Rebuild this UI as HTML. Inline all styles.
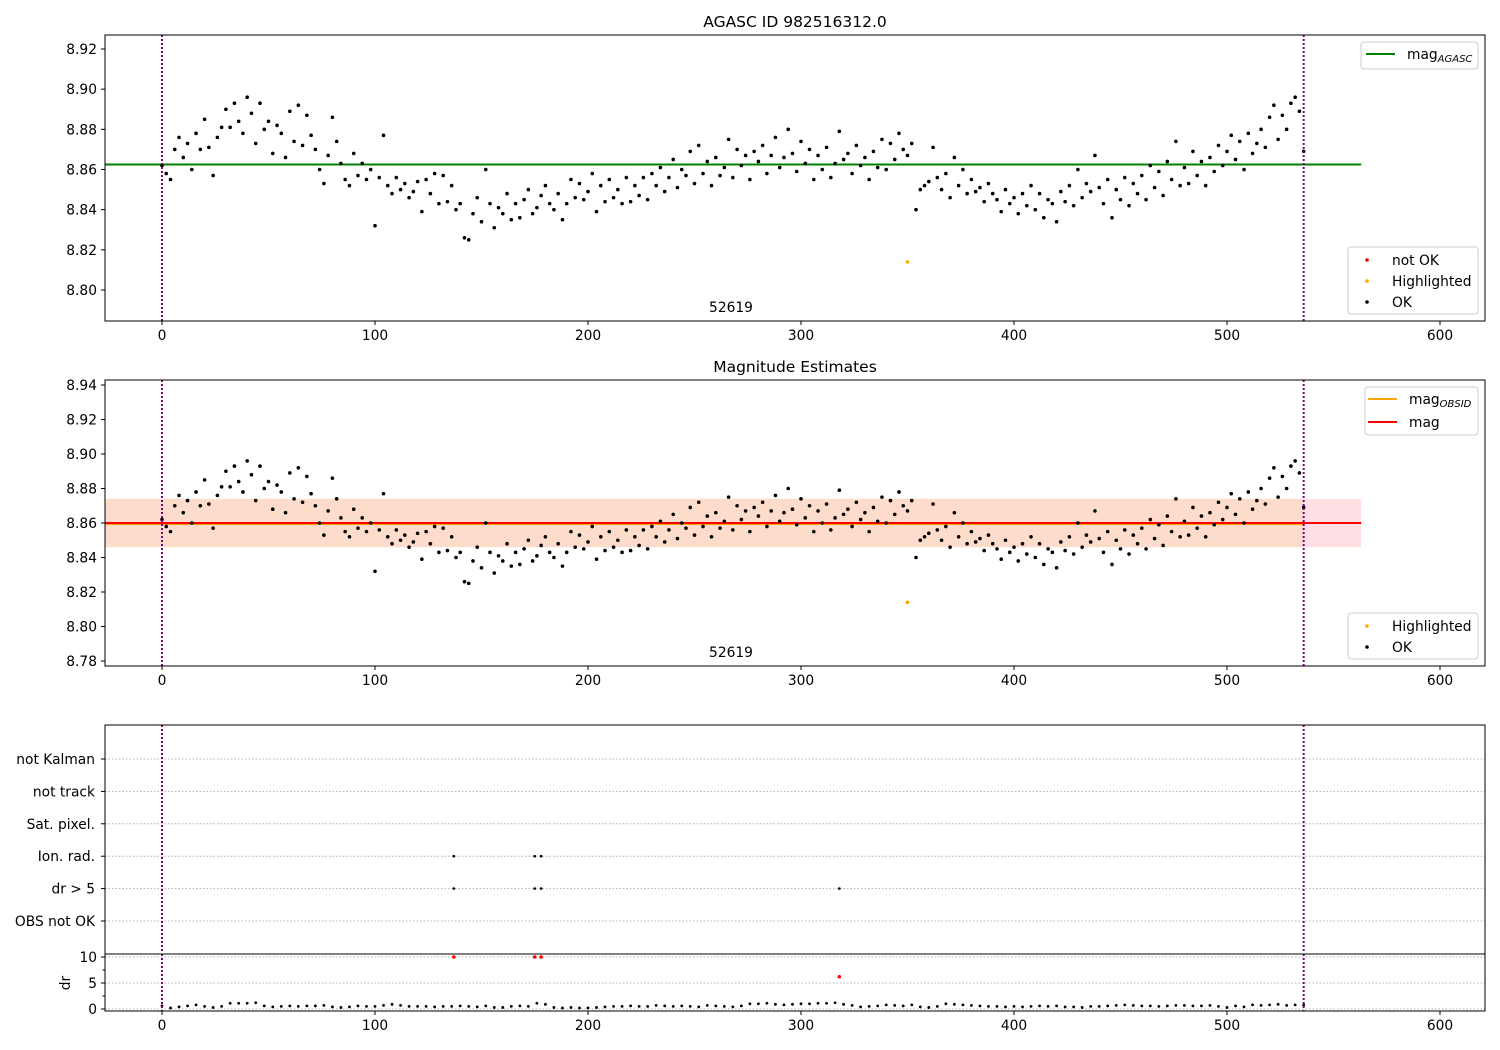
<!DOCTYPE html>
<html><head><meta charset="utf-8">
<style>
html,body{margin:0;padding:0;background:#fff;}
svg{display:block;font-family:"DejaVu Sans","Liberation Sans",sans-serif;}
</style></head>
<body>
<svg id="fig" width="1500" height="1050" xmlns="http://www.w3.org/2000/svg"></svg>
<script>
// ---- data ----
const magX0 = 0, magStep = 2;
const magValues = [
8.862,8.858,8.855,8.870,8.876,8.866,8.873,8.860,8.878,8.870,
8.885,8.871,8.857,8.876,8.881,8.890,8.881,8.893,8.884,8.878,
8.896,8.888,8.873,8.893,8.880,8.884,8.868,8.882,8.878,8.866,
8.889,8.874,8.892,8.872,8.887,8.877,8.870,8.860,8.853,8.867,
8.886,8.874,8.863,8.855,8.852,8.868,8.857,8.863,8.855,8.860,
8.832,8.856,8.877,8.852,8.848,8.856,8.850,8.853,8.846,8.849,
8.854,8.839,8.855,8.848,8.858,8.843,8.857,8.844,8.852,8.840,
8.843,8.826,8.825,8.838,8.846,8.834,8.860,8.843,8.831,8.841,
8.838,8.848,8.835,8.843,8.836,8.845,8.850,8.838,8.841,8.847,
8.852,8.843,8.840,8.848,8.835,8.843,8.855,8.846,8.853,8.845,
8.849,8.858,8.839,8.852,8.844,8.855,8.846,8.850,8.843,8.856,
8.844,8.852,8.847,8.856,8.845,8.858,8.852,8.861,8.849,8.856,
8.865,8.851,8.860,8.857,8.869,8.853,8.872,8.858,8.864,8.852,
8.866,8.857,8.861,8.875,8.856,8.870,8.862,8.867,8.855,8.869,
8.864,8.872,8.858,8.867,8.876,8.861,8.866,8.880,8.868,8.859,
8.874,8.863,8.870,8.855,8.867,8.860,8.871,8.856,8.863,8.879,
8.865,8.868,8.858,8.872,8.862,8.866,8.855,8.869,8.861,8.875,
8.860,8.873,8.865,8.878,8.870,8.867,8.873,8.840,8.850,8.852,
8.854,8.871,8.856,8.850,8.858,8.846,8.866,8.852,8.860,8.848,
8.855,8.849,8.851,8.844,8.853,8.848,8.845,8.839,8.850,8.843,
8.846,8.838,8.848,8.842,8.852,8.840,8.848,8.836,8.845,8.843,
8.834,8.849,8.844,8.852,8.842,8.860,8.846,8.853,8.849,8.867,
8.851,8.843,8.855,8.836,8.850,8.845,8.856,8.842,8.853,8.848,
8.857,8.845,8.862,8.851,8.859,8.847,8.864,8.855,8.874,8.852,
8.861,8.853,8.869,8.857,8.864,8.852,8.866,8.859,8.872,8.862,
8.869,8.877,8.865,8.874,8.860,8.878,8.868,8.873,8.880,8.871,
8.886,8.892,8.875,8.887,8.880,8.893,8.896,8.889,8.869];
const highlightX = [350];
const highlightMag = [8.814];
const magAgasc = 8.8625;
const magMean = 8.860;
const magBandLo = 8.846, magBandHi = 8.874;
const obsStart = 0, obsEnd = 536;
const lineEnd = 563;
const drX0 = 0, drStep = 4;
const drValues = [
0.6,0.2,0.4,0.6,0.8,0.5,0.3,0.5,1.1,1.1,
1.1,1.2,0.6,0.4,0.5,0.6,0.5,0.6,0.6,0.7,
0.4,0.3,0.4,0.6,0.5,0.5,0.7,0.9,0.7,0.5,
0.5,0.5,0.4,0.5,0.5,0.6,0.5,0.4,0.6,0.3,
0.3,0.5,0.6,0.5,1.1,0.9,0.3,0.2,0.3,0.2,
0.2,0.3,0.4,0.5,0.5,0.6,0.5,0.5,0.7,0.6,
0.5,0.6,0.5,0.4,0.7,0.6,0.5,0.4,0.6,1.0,
1.0,1.1,0.9,0.8,0.9,1.0,1.0,1.1,1.1,1.2,
0.9,0.7,0.4,0.5,0.6,0.8,0.7,0.6,0.8,0.4,
0.3,0.5,1.0,0.9,0.8,0.7,0.6,0.5,0.5,0.4,
0.5,0.4,0.5,0.6,0.5,0.6,0.4,0.4,0.3,0.5,
0.5,0.6,0.7,0.8,0.7,0.6,0.6,0.5,0.6,0.7,
0.7,0.6,0.6,0.7,0.5,0.3,0.6,0.4,0.8,0.7,
0.8,0.9,0.7,0.8,0.8];
const drBadX = [137,175,178,318];
const drBadValues = [10,10,10,6.2];
const flagLabels = ["OBS not OK","dr > 5","Ion. rad.","Sat. pixel.","not track","not Kalman"];
const flagX = [137,175,178,137,175,178,318];
const flagRow = [2,2,2,1,1,1,1];
const xTicks = [0,100,200,300,400,500,600];
const yTicks1 = [8.80,8.82,8.84,8.86,8.88,8.90,8.92];
const yTicks2 = [8.78,8.80,8.82,8.84,8.86,8.88,8.90,8.92,8.94];
const yTicks4 = [0,5,10];
const yMinor4 = [2.5,7.5];

// ---- drawing ----
const svg = document.getElementById('fig');
const NS = 'http://www.w3.org/2000/svg';
const FS = 13.8;
function mk(tag, attrs, parent, text){
  const e = document.createElementNS(NS, tag);
  for (const k in attrs) e.setAttribute(k, attrs[k]);
  if (text !== undefined) e.textContent = text;
  (parent||svg).appendChild(e);
  return e;
}
const L = 105, R = 1485;
const xs = v => 162 + v * 2.13;
const ys1 = v => 49 + (8.92 - v) * 2008.3;
const ys2 = v => 385 + (8.94 - v) * 1725;
const ys3 = i => 921 - i * 32.4;
const ys4 = v => 1009 - v * 5.2;
const mx = i => magX0 + i * magStep;
const dx = i => drX0 + i * drStep;

function frame(top, bottom, name){
  const r = mk('rect',{x:L,y:top,width:R-L,height:bottom-top,fill:'none',stroke:'#000','stroke-width':1});
  
  
}
function xAxis(bottom, name, labels){
  const g = mk('g',{});
  
  
  xTicks.forEach(t=>{
    mk('line',{x1:xs(t),x2:xs(t),y1:bottom,y2:bottom+4,stroke:'#000'},g);
    if (labels) mk('text',{x:xs(t),y:bottom+19,'font-size':FS,'text-anchor':'middle',fill:'#000'},g,String(t));
  });
}
function yAxis(ticks, ys, name, fmt){
  const g = mk('g',{});
  
  
  ticks.forEach(t=>{
    mk('line',{x1:L-4,x2:L,y1:ys(t),y2:ys(t),stroke:'#000'},g);
    mk('text',{x:L-8,y:ys(t)+5,'font-size':FS,'text-anchor':'end',fill:'#000'},g,fmt(t));
  });
}
function vlines(top,bottom,name){
  [obsStart,obsEnd].forEach(v=>{
    const l = mk('line',{x1:xs(v),x2:xs(v),y1:top,y2:bottom,stroke:'#800080','stroke-width':2,'stroke-dasharray':'2,2'});
    
    
  });
}
function dots(xsArr, ysArr, ys, color, name, r){
  const g = mk('g',{});
  
  
  for (let i=0;i<ysArr.length;i++){
    mk('circle',{cx:xs(xsArr(i)),cy:ys(ysArr[i]),r:r||1.8,fill:color},g);
  }
}

// Panel 1
mk('text',{x:795,y:27,'font-size':15.5,'text-anchor':'middle',fill:'#000'},svg,'AGASC ID 982516312.0');
const ag = mk('line',{x1:L,x2:xs(lineEnd),y1:ys1(magAgasc),y2:ys1(magAgasc),stroke:'#008000','stroke-width':2});


dots(mx, magValues, ys1, '#000', 'mag-points-top');
dots(i=>highlightX[i], highlightMag, ys1, 'orange', 'highlighted-point-top');
vlines(35,321,'obs-boundary-top');
mk('text',{x:731,y:312,'font-size':FS,'text-anchor':'middle',fill:'#000'},svg,'52619');
frame(35,321,'top-axes');
xAxis(321,'top-x-axis',true);
yAxis(yTicks1, ys1, 'top-y-axis', t=>t.toFixed(2));

function legendBox(x,y,w,h,name){
  const r = mk('rect',{x:x,y:y,width:w,height:h,rx:3,fill:'#fff','fill-opacity':0.8,stroke:'#ccc'});
  
  
}
function legLine(x,y,color,label,sub,name){
  const g = mk('g',{});
  
  
  mk('line',{x1:x,x2:x+29,y1:y,y2:y,stroke:color,'stroke-width':2},g);
  const t = mk('text',{x:x+41,y:y+5,'font-size':FS,fill:'#000'},g,label);
  if (sub){ mk('tspan',{'font-size':10,'font-style':'italic',dy:3},t,sub); }
}
function legDot(x,y,color,label,name){
  const g = mk('g',{});
  
  
  mk('circle',{cx:x,cy:y,r:1.8,fill:color},g);
  mk('text',{x:x+25,y:y+5,'font-size':FS,fill:'#000'},g,label);
}
legendBox(1361,42,117,27,'legend-top-lines');
legLine(1366,54,'#008000','mag','AGASC','legend-entry-mag-agasc');
legendBox(1348,247,130,67,'legend-top-points');
legDot(1367,260,'red','not OK','legend-entry-not-ok');
legDot(1367,281,'orange','Highlighted','legend-entry-highlighted');
legDot(1367,302,'#000','OK','legend-entry-ok');

// Panel 2
mk('text',{x:795,y:372,'font-size':15.5,'text-anchor':'middle',fill:'#000'},svg,'Magnitude Estimates');
const pb = mk('rect',{x:L,y:ys2(magBandHi),width:xs(lineEnd)-L,height:ys2(magBandLo)-ys2(magBandHi),fill:'#ffe0e4'});


const ob = mk('rect',{x:L,y:ys2(magBandHi),width:xs(obsEnd)-L,height:ys2(magBandLo)-ys2(magBandHi),fill:'#fddccb'});


const ol = mk('line',{x1:L,x2:xs(obsEnd),y1:ys2(magMean)+1,y2:ys2(magMean)+1,stroke:'orange','stroke-width':2});


const rl = mk('line',{x1:L,x2:xs(lineEnd),y1:ys2(magMean),y2:ys2(magMean),stroke:'red','stroke-width':2});


dots(mx, magValues, ys2, '#000', 'mag-points-middle');
dots(i=>highlightX[i], highlightMag, ys2, 'orange', 'highlighted-point-middle');
vlines(380,666,'obs-boundary-middle');
mk('text',{x:731,y:657,'font-size':FS,'text-anchor':'middle',fill:'#000'},svg,'52619');
frame(380,666,'middle-axes');
xAxis(666,'middle-x-axis',true);
yAxis(yTicks2, ys2, 'middle-y-axis', t=>t.toFixed(2));
legendBox(1365,387,113,48,'legend-middle-lines');
legLine(1368,399,'orange','mag','OBSID','legend-entry-mag-obsid');
legLine(1368,422,'red','mag',null,'legend-entry-mag');
legendBox(1348,613,130,46,'legend-middle-points');
legDot(1367,626,'orange','Highlighted','legend-entry-highlighted-2');
legDot(1367,647,'#000','OK','legend-entry-ok-2');

// Panel 3 (flags)
const gf = mk('g',{});


flagLabels.forEach((lab,i)=>{
  mk('line',{x1:L,x2:R,y1:ys3(i),y2:ys3(i),stroke:'#b0b0b0','stroke-dasharray':'1.5,2'},gf);
  mk('line',{x1:L-4,x2:L,y1:ys3(i),y2:ys3(i),stroke:'#000'},gf);
  mk('text',{x:L-10,y:ys3(i)+5,'font-size':FS,'text-anchor':'end',fill:'#000'},gf,lab);
});
dots(i=>flagX[i], flagRow, ys3, '#000', 'flag-points', 1.3);
vlines(725,953,'obs-boundary-flags');
frame(725,954,'flags-axes');

// Panel 4 (dr)
const gd = mk('g',{});


yTicks4.forEach(t=>mk('line',{x1:L,x2:R,y1:ys4(t),y2:ys4(t),stroke:'#b0b0b0','stroke-dasharray':'1.5,2'},gd));
yMinor4.forEach(t=>mk('line',{x1:L-2.5,x2:L,y1:ys4(t),y2:ys4(t),stroke:'#000'},gd));
dots(dx, drValues, ys4, '#000', 'dr-points', 1.4);
dots(i=>drBadX[i], drBadValues, ys4, 'red', 'dr-outliers', 1.8);
vlines(954,1011,'obs-boundary-dr');
frame(954,1011,'dr-axes');
xAxis(1011,'bottom-x-axis',true);
yAxis(yTicks4, ys4, 'dr-y-axis', t=>String(t));
const drl = mk('text',{x:70,y:983,'font-size':FS,'text-anchor':'middle',fill:'#000',transform:'rotate(-90 70 983)'},svg,'dr');


</script>
</body></html>
